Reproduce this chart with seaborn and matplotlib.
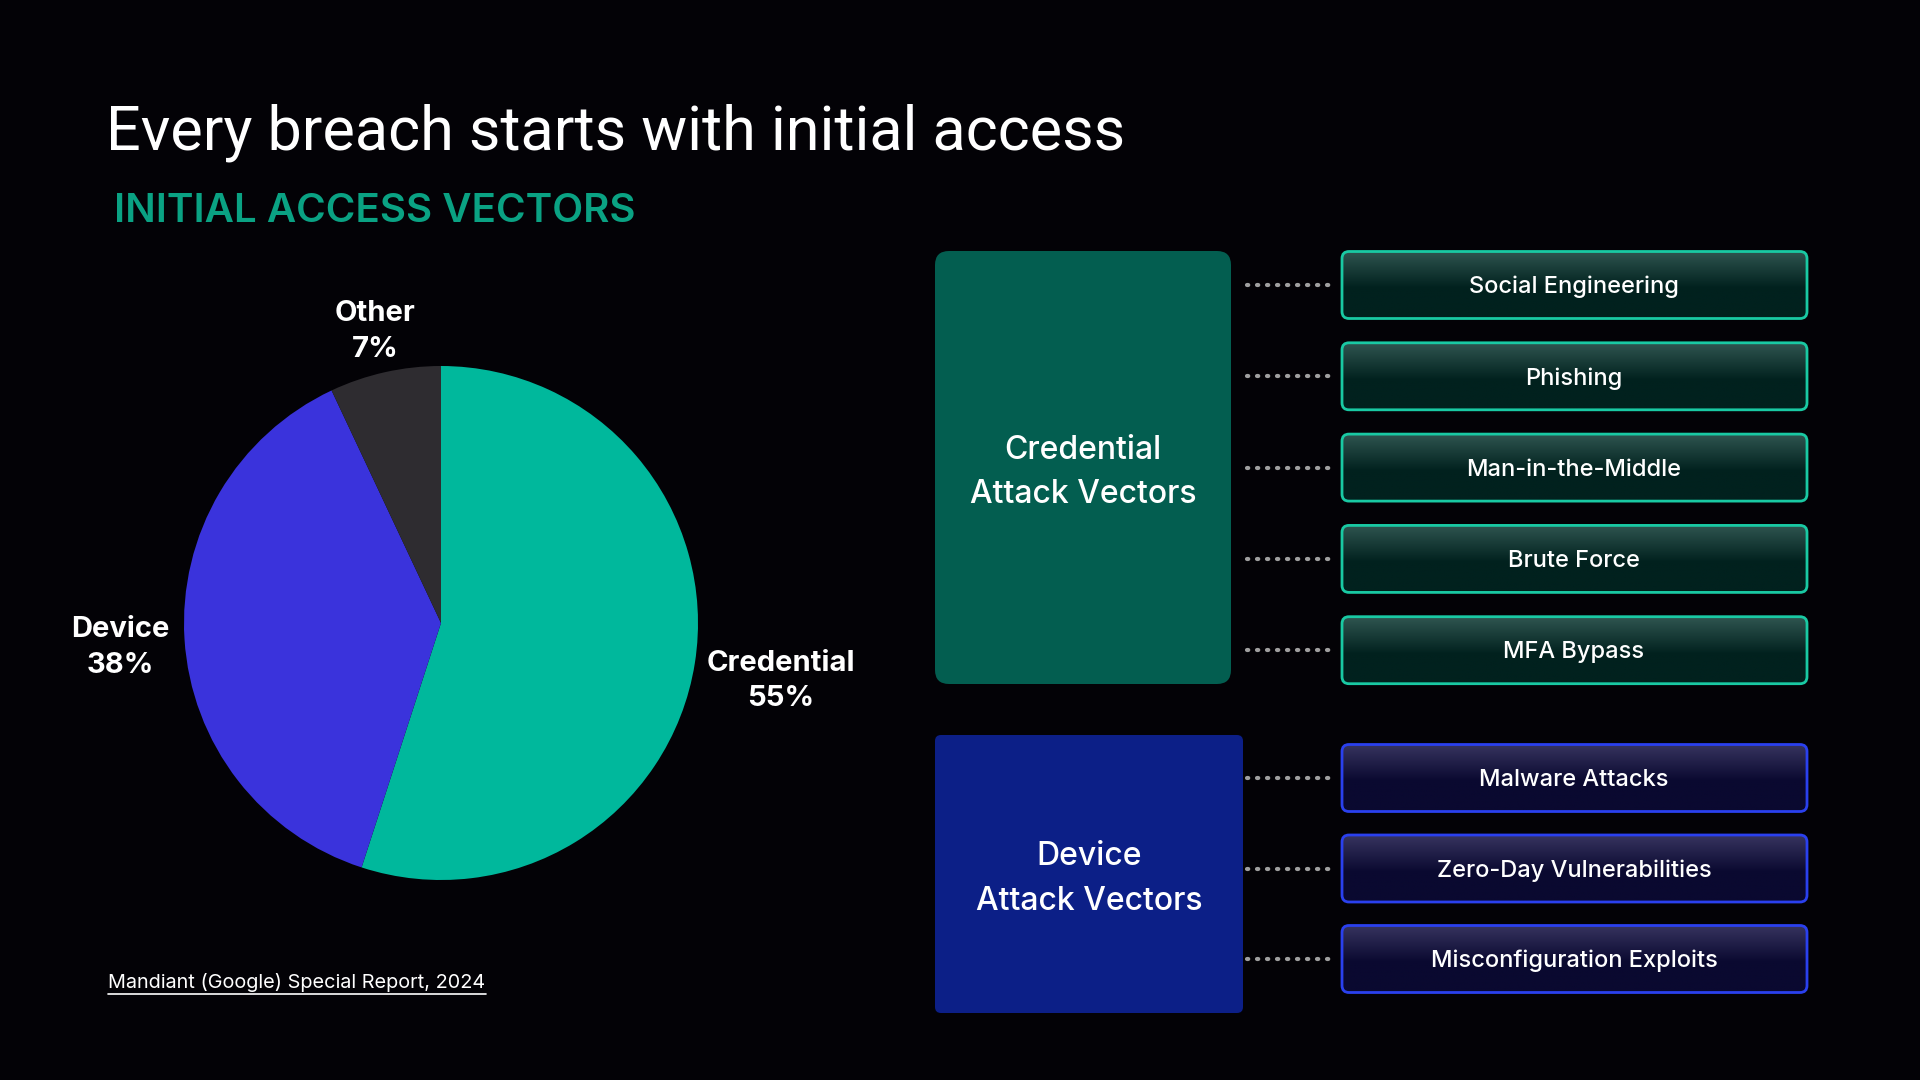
import numpy as np
import matplotlib
matplotlib.use("Agg")
import matplotlib.pyplot as plt
import seaborn as sns
from matplotlib.patches import FancyBboxPatch

# === Data ===
slice_names = ["Credential", "Device", "Other"]
slice_shares = [55, 38, 7]
slice_colors = ["#00b89c", "#3a33dc", "#2e2c30"]

group_titles = ["Credential\nAttack Vectors", "Device\nAttack Vectors"]
credential_items = ["Social Engineering", "Phishing", "Man-in-the-Middle",
                    "Brute Force", "MFA Bypass"]
device_items = ["Malware Attacks", "Zero-Day Vulnerabilities",
                "Misconfiguration Exploits"]

title_text = "Every breach starts with initial access"
subtitle_text = "INITIAL ACCESS VECTORS"
source_text = "Mandiant (Google) Special Report, 2024"

# === Style ===
BG = "#030206"
sns.set_theme(style="dark", rc={"figure.facecolor": BG, "axes.facecolor": BG})
plt.rcParams["font.family"] = ["Inter", "DejaVu Sans"]

fig = plt.figure(figsize=(19.2, 10.8), dpi=100)
canvas = fig.add_axes([0, 0, 1, 1])
canvas.set_xlim(0, 1920)
canvas.set_ylim(1080, 0)
canvas.axis("off")

# === Titles ===
canvas.text(106, 133, title_text, color="white", fontsize=44, va="center",
            ha="left", family=["Roboto", "DejaVu Sans"])
canvas.text(114, 211, subtitle_text, color="#0aa283", fontsize=29, va="center",
            ha="left", fontweight="semibold")
canvas.text(108, 983, source_text, color="white", fontsize=14.3, va="center",
            ha="left")
canvas.plot([108, 486], [994, 994], color="white", lw=1.2)

# === Pie ===
cx, cy, r = 441, 623, 257
pie_ax = fig.add_axes([(cx - r) / 1920, (1080 - cy - r) / 1080, 2 * r / 1920, 2 * r / 1080])
wedges, _ = pie_ax.pie(slice_shares, colors=slice_colors, startangle=90,
                       counterclock=False, radius=1,
                       wedgeprops=dict(linewidth=0))
pie_ax.set_xlim(-1, 1)
pie_ax.set_ylim(-1, 1)
pie_ax.set_aspect("equal")
pie_ax.axis("off")

label_dist = {"Credential": 1.34, "Device": 1.25, "Other": 1.18}
for w, name, share in zip(wedges, slice_names, slice_shares):
    ang = np.deg2rad((w.theta1 + w.theta2) / 2)
    d = label_dist[name]
    pie_ax.text(d * np.cos(ang), d * np.sin(ang) - 0.017, f"{name}\n{share}%",
                ha="center", va="center", color="white", fontsize=21,
                fontweight="bold", linespacing=1.4, clip_on=False)


# === Vector boxes ===
def gradient_box(x, y, w, h, top, bottom, edge):
    patch = FancyBboxPatch((x, y), w, h, boxstyle="round,pad=0,rounding_size=7",
                           facecolor="none", edgecolor=edge, lw=2, zorder=3)
    canvas.add_patch(patch)
    t = np.clip(np.linspace(0, 1, 100) / 0.55, 0, 1)[:, None]
    c_top = np.array(matplotlib.colors.to_rgb(top))
    c_bot = np.array(matplotlib.colors.to_rgb(bottom))
    img = (c_top[None, None, :] * (1 - t[..., None]) + c_bot[None, None, :] * t[..., None])
    img = np.repeat(img, 2, axis=1)
    im = canvas.imshow(img, extent=[x, x + w, y + h, y], origin="upper",
                       aspect="auto", zorder=2)
    im.set_clip_path(patch)


groups = [
    dict(title=group_titles[0], items=credential_items, box=(935, 251, 296, 433),
         fill="#035e50", first=285, step=91.3, top="#2f5550", bottom="#01211e",
         edge="#19c9a3", rounding=14),
    dict(title=group_titles[1], items=device_items, box=(935, 735, 308, 278),
         fill="#0c1f87", first=778, step=90.5, top="#37345f", bottom="#0a0930",
         edge="#2a40ee", rounding=6),
]

for g in groups:
    bx, by, bw, bh = g["box"]
    canvas.add_patch(FancyBboxPatch((bx, by), bw, bh,
                                    boxstyle=f"round,pad=0,rounding_size={g['rounding']}",
                                    facecolor=g["fill"], edgecolor="none", zorder=2))
    canvas.text(bx + bw / 2, by + bh / 2 + 5, g["title"], color="white", fontsize=23,
                ha="center", va="center", linespacing=1.55, fontweight="medium", zorder=4)
    for i, item in enumerate(g["items"]):
        yc = g["first"] + i * g["step"]
        canvas.plot([1247, 1332], [yc, yc], color="#a0a0a0", lw=3,
                    linestyle=(0, (0.3, 2.1)), dash_capstyle="round", zorder=2)
        gradient_box(1342, yc - 33.5, 465, 67, g["top"], g["bottom"], g["edge"])
        canvas.text(1574, yc + 2, item, color="white", fontsize=17, ha="center",
                    va="center", fontweight="medium", zorder=4)

fig.savefig("out.png", dpi=100, facecolor=BG)
